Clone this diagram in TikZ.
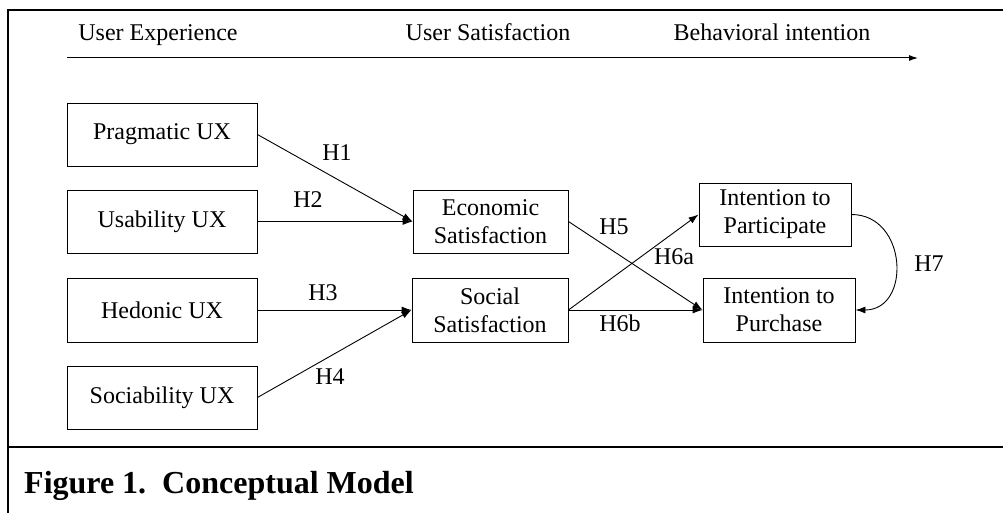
\documentclass[tikz,border=0pt]{standalone}
\usepackage{fontspec}
\setmainfont{Liberation Serif}
\usetikzlibrary{arrows.meta}
\begin{document}
\begin{tikzpicture}[x=1pt,y=-1pt,
  box/.style={draw, line width=0.9pt, inner sep=0pt, align=center, font=\fontsize{24}{28}\selectfont},
  lbl/.style={inner sep=0pt, font=\fontsize{24}{28}\selectfont},
  conn/.style={line width=0.9pt, -{Latex[length=10pt,width=7pt]}},
  frame/.style={line width=2.8pt}
]
\useasboundingbox (0,0) rectangle (1003,513);
% frame
\draw[frame] (8,513) -- (8,10) -- (1003,10);
\draw[line width=2.5pt] (8,447) -- (1003,447);
% top axis
\node[lbl, anchor=base] (ue) at (158,40.5) {User Experience};
\node[lbl, anchor=base] (us) at (488,40.5) {User Satisfaction};
\node[lbl, anchor=base] (bi) at (772,40.5) {Behavioral intention};
\coordinate (axs) at (67,58);
\coordinate (axe) at (918,58);
\draw[line width=1pt, -{Latex[length=9pt,width=6pt]}] (axs) -- (axe);
% boxes
\node[box, minimum width=190pt, minimum height=63pt] (prag) at (162,134.5) {Pragmatic UX};
\node[box, minimum width=190pt, minimum height=63pt] (usab) at (162,221.5) {Usability UX};
\node[box, minimum width=190pt, minimum height=64pt] (hedo) at (162,310) {Hedonic UX};
\node[box, minimum width=190pt, minimum height=63pt] (soci) at (162,397.5) {Sociability UX};
\node[box, minimum width=155pt, minimum height=63pt] (econ) at (490.5,221.5) {Economic\\Satisfaction};
\node[box, minimum width=156pt, minimum height=64pt] (socs) at (490,310) {Social\\Satisfaction};
\node[box, minimum width=152pt, minimum height=63pt] (part) at (775,214.5) {Intention to\\Participate};
\node[box, minimum width=152pt, minimum height=64pt] (purc) at (779,310) {Intention to\\Purchase};
% connectors
\draw[conn] (prag.east) -- (econ.west);
\draw[conn] (usab.east) -- (econ.west);
\draw[conn] (hedo.east) -- (socs.west);
\draw[conn] (soci.east) -- (socs.west);
\draw[conn] (econ.east) -- (purc.west);
\draw[conn] (socs.east) -- (part.west);
\draw[conn] (socs.east) -- (purc.west);
\draw[conn] (part.east) to[out=0,in=0,looseness=1.5] (purc.east);
% labels
\node[lbl] (h1) at (337,153) {H1};
\node[lbl] (h2) at (308,200) {H2};
\node[lbl] (h3) at (323,293) {H3};
\node[lbl] (h4) at (330,377) {H4};
\node[lbl] (h5) at (614,227) {H5};
\node[lbl] (h6a) at (674,257) {H6a};
\node[lbl] (h6b) at (620,323) {H6b};
\node[lbl] (h7) at (929,264) {H7};
% caption
\node[inner sep=0pt, anchor=base west, font=\fontsize{32}{36}\selectfont\bfseries] (cap) at (24,493) {Figure 1.\ \ Conceptual Model};
\end{tikzpicture}
\end{document}
